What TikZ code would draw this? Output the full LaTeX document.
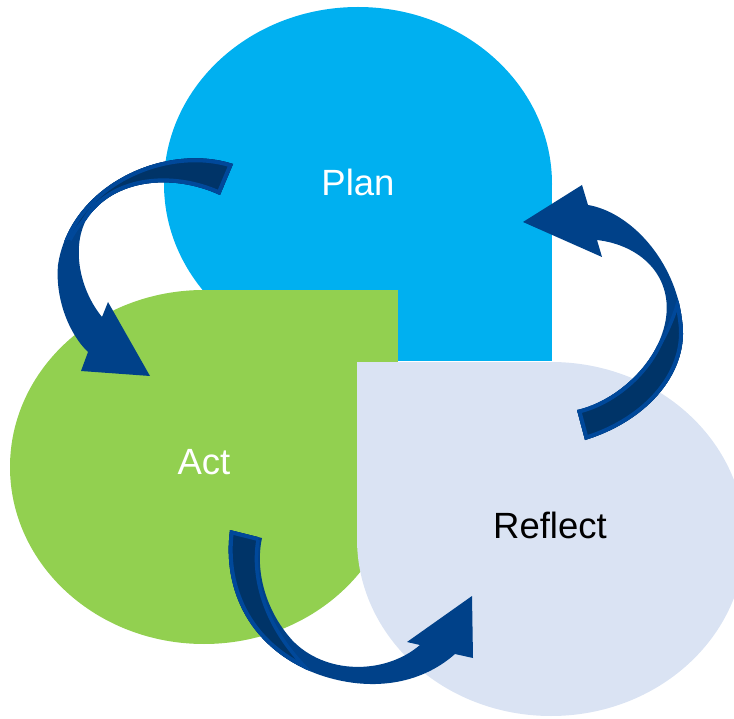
\documentclass[tikz,border=0pt]{standalone}
\usepackage{fontspec}
\setmainfont{Liberation Sans}
\definecolor{planblue}{HTML}{00B0F0}
\definecolor{actgreen}{HTML}{92D050}
\definecolor{reflectgrey}{HTML}{DAE3F3}
\definecolor{arrowfront}{HTML}{004189}
\definecolor{arrowback}{HTML}{003468}
\definecolor{arrowedge}{HTML}{00489A}

% outlines of the three curved block arrows
\def\arrowOne{(233,164) .. controls (165,142) and (70,185) .. (58,265)
  .. controls (55,300) and (70,335) .. (88,352) -- (81,371) -- (150,376)
  -- (108,302) -- (102,317) .. controls (80,290) and (72,250) .. (85,222)
  .. controls (110,180) and (170,172) .. (220,195) -- cycle}
\def\looseOne{(222,197) .. controls (160,175) and (95,190) .. (70,240)
  -- (20,250) -- (20,120) -- (260,120) -- (260,200) -- cycle}
\def\seamOne{(222,197) .. controls (160,175) and (95,190) .. (70,240)}

\def\arrowTwo{(230,530) .. controls (222,590) and (250,650) .. (320,675)
  .. controls (370,692) and (420,685) .. (455,654) -- (473,658) -- (472,596)
  -- (407,642) -- (420,645) .. controls (385,675) and (325,675) .. (292,640)
  .. controls (265,610) and (255,570) .. (262,538) -- cycle}
\def\looseTwo{(258,540) .. controls (252,575) and (262,625) .. (310,672)
  -- (300,700) -- (180,700) -- (180,500) -- (275,500) -- cycle}
\def\seamTwo{(258,540) .. controls (252,575) and (262,625) .. (310,672)}

\def\arrowThree{(585,440) .. controls (650,420) and (690,370) .. (682,320)
  .. controls (675,260) and (630,212) .. (588,205) -- (582,185) -- (523,222)
  -- (602,257) -- (597,240) .. controls (640,245) and (672,275) .. (666,318)
  .. controls (660,360) and (620,400) .. (577,410) -- cycle}
\def\looseThree{(575,412) .. controls (625,398) and (665,355) .. (680,295)
  -- (720,290) -- (720,470) -- (560,470) -- cycle}
\def\seamThree{(575,412) .. controls (625,398) and (665,355) .. (680,295)}

\begin{document}
\begin{tikzpicture}[x=1pt,y=-1pt,
  stagelabel/.style={anchor=base, font=\fontsize{36.5}{40}\selectfont},
  frontface/.style={fill=arrowfront},
  backface/.style={fill=arrowback},
  rim/.style={draw=arrowedge, line width=#1}]
\useasboundingbox (0,0) rectangle (734,719);
\clip (0,0) rectangle (734,719);

% Plan: ellipse with a square lower-right corner
\fill[planblue] (358,184) ellipse [x radius=194pt, y radius=177pt];
\fill[planblue] (358,184) rectangle (552,361);
% Act: square upper-right corner
\fill[actgreen] (204,467) ellipse [x radius=194pt, y radius=177pt];
\fill[actgreen] (204,467) rectangle (398,290);
% Reflect: square upper-left corner
\fill[reflectgrey] (551,539) ellipse [x radius=194pt, y radius=177pt];
\fill[reflectgrey] (551,539) rectangle (357,362);

\node[stagelabel, text=white] (plan) at (358,196) {Plan};
\node[stagelabel, text=white] (act) at (204,474) {Act};
\node[stagelabel, text=black] (reflect) at (550,538) {Reflect};

% curved arrows: front face, then the twisted back face near the tail
\fill[frontface] \arrowOne;
\begin{scope}
  \clip \arrowOne;
  \begin{scope}
    \clip \looseOne;
    \fill[backface] \looseOne;
    \draw[rim=8] \arrowOne;
  \end{scope}
  \draw[rim=3.5] \seamOne;
\end{scope}

\fill[frontface] \arrowTwo;
\begin{scope}
  \clip \arrowTwo;
  \begin{scope}
    \clip \looseTwo;
    \fill[backface] \looseTwo;
    \draw[rim=8] \arrowTwo;
  \end{scope}
  \draw[rim=3.5] \seamTwo;
\end{scope}

\fill[frontface] \arrowThree;
\begin{scope}
  \clip \arrowThree;
  \begin{scope}
    \clip \looseThree;
    \fill[backface] \looseThree;
    \draw[rim=8] \arrowThree;
  \end{scope}
  \draw[rim=3.5] \seamThree;
\end{scope}
\end{tikzpicture}
\end{document}
